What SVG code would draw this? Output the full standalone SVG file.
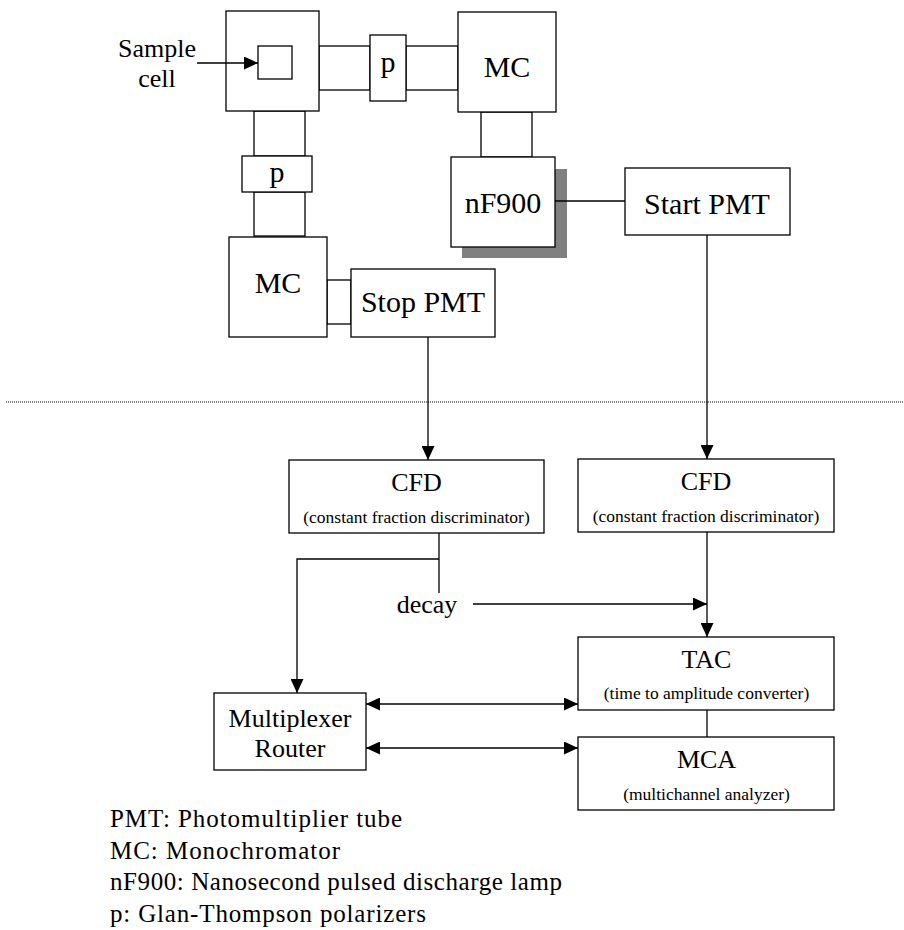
<svg xmlns="http://www.w3.org/2000/svg" width="904" height="930" viewBox="0 0 904 930" font-family="'Liberation Serif', 'Times New Roman', serif">
<style>
.b{fill:#fff;stroke:#000;stroke-width:1.3}
.l{fill:none;stroke:#000;stroke-width:1.3}
text{font-family:"Liberation Serif","Times New Roman",serif;fill:#000}
.t30{font-size:30px;text-anchor:middle}
.t26{font-size:26px;text-anchor:middle}
.t17{font-size:17.5px;text-anchor:middle}
.lg{font-size:25px}
</style>
<defs>
<marker id="ah" viewBox="0 0 14 13" refX="14" refY="6.5" markerWidth="14" markerHeight="13" markerUnits="userSpaceOnUse" orient="auto-start-reverse">
<path d="M0,0 L14,6.5 L0,13 z" fill="#000"/>
</marker>
</defs>
<rect width="904" height="930" fill="#fff"/>

<g id="tubes">
<rect class="b" x="319" y="46" width="51" height="44"/>
<rect class="b" x="406" y="46" width="52" height="44"/>
<rect class="b" x="254" y="111" width="51" height="45"/>
<rect class="b" x="254" y="192" width="51" height="44"/>
<rect class="b" x="481" y="112" width="51" height="45"/>
<rect class="b" x="327" y="280" width="24" height="44"/>
</g>

<g id="sample-housing">
<rect class="b" x="226" y="11" width="93" height="100"/>
<rect class="b" x="258" y="46" width="34" height="33"/>
</g>
<g id="sample-label">
<text class="t26" x="157" y="57">Sample</text>
<text class="t26" x="157" y="87">cell</text>
</g>
<g id="p-top">
<rect class="b" x="370" y="35" width="36" height="66"/>
<text class="t30" x="388" y="72">p</text>
</g>
<g id="p-left">
<rect class="b" x="242" y="156" width="70" height="36"/>
<text class="t30" x="277" y="182">p</text>
</g>
<g id="mc-top">
<rect class="b" x="458" y="12" width="98" height="100"/>
<text class="t30" x="507" y="77">MC</text>
</g>
<g id="nf900">
<rect x="462" y="169" width="105" height="89" fill="#808080"/>
<rect class="b" x="451" y="157" width="104" height="90"/>
<text class="t30" x="503" y="213">nF900</text>
</g>
<g id="start-pmt">
<rect class="b" x="625" y="168" width="165" height="67"/>
<text class="t30" x="707" y="214">Start PMT</text>
</g>
<g id="mc-bottom">
<rect class="b" x="229" y="237" width="98" height="100"/>
<text class="t30" x="278" y="293">MC</text>
</g>
<g id="stop-pmt">
<rect class="b" x="351" y="269" width="144" height="68"/>
<text class="t30" x="423" y="312">Stop PMT</text>
</g>

<line x1="6" y1="402" x2="904" y2="402" stroke="#000" stroke-width="1" stroke-dasharray="1 1"/>

<g id="cfd-left">
<rect class="b" x="289" y="460" width="255" height="73"/>
<text class="t26" x="416.5" y="491">CFD</text>
<text class="t17" x="416.5" y="523">(constant fraction discriminator)</text>
</g>
<g id="cfd-right">
<rect class="b" x="578" y="459" width="256" height="73"/>
<text class="t26" x="706" y="490">CFD</text>
<text class="t17" x="706" y="522">(constant fraction discriminator)</text>
</g>
<g id="tac">
<rect class="b" x="578" y="637" width="256" height="73"/>
<text class="t26" x="706.5" y="668">TAC</text>
<text class="t17" x="706.5" y="699">(time to amplitude converter)</text>
</g>
<g id="mca">
<rect class="b" x="578" y="737" width="256" height="73"/>
<text class="t26" x="706.5" y="768">MCA</text>
<text class="t17" x="706.5" y="800">(multichannel analyzer)</text>
</g>
<g id="multiplexer">
<rect class="b" x="214" y="693" width="152" height="77"/>
<text class="t26" x="290" y="727">Multiplexer</text>
<text class="t26" x="290" y="757">Router</text>
</g>
<g id="decay-label">
<text class="t26" x="427" y="613">decay</text>
</g>

<g id="connectors">
<line class="l" x1="197" y1="63" x2="258" y2="63" marker-end="url(#ah)"/>
<line class="l" x1="555" y1="201" x2="625" y2="201"/>
<line class="l" x1="707" y1="235" x2="707" y2="459" marker-end="url(#ah)"/>
<line class="l" x1="428" y1="337" x2="428" y2="460" marker-end="url(#ah)"/>
<line class="l" x1="439" y1="533" x2="439" y2="593"/>
<polyline class="l" points="439,559 297,559 297,693" marker-end="url(#ah)"/>
<line class="l" x1="473" y1="604" x2="707" y2="604" marker-end="url(#ah)"/>
<line class="l" x1="707" y1="532" x2="707" y2="637" marker-end="url(#ah)"/>
<line class="l" x1="707" y1="710" x2="707" y2="737"/>
<line class="l" x1="366" y1="704" x2="578" y2="704" marker-start="url(#ah)" marker-end="url(#ah)"/>
<line class="l" x1="366" y1="748" x2="578" y2="748" marker-start="url(#ah)" marker-end="url(#ah)"/>
</g>

<g id="legend">
<text class="lg" x="110" y="827" textLength="292" lengthAdjust="spacing">PMT: Photomultiplier tube</text>
<text class="lg" x="110" y="859" textLength="230" lengthAdjust="spacing">MC: Monochromator</text>
<text class="lg" x="110" y="890" textLength="452" lengthAdjust="spacing">nF900: Nanosecond pulsed discharge lamp</text>
<text class="lg" x="110" y="922" textLength="316" lengthAdjust="spacing">p: Glan-Thompson polarizers</text>
</g>
</svg>
